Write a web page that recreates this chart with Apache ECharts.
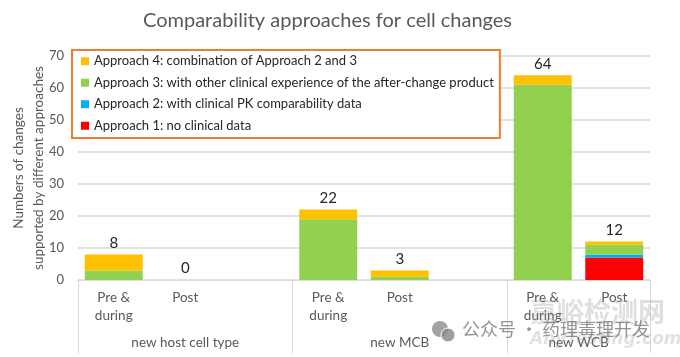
<!DOCTYPE html>
<html><head><meta charset="utf-8">
<script src="https://cdn.jsdelivr.net/npm/echarts@6/dist/echarts.min.js"></script>
<style>html,body{margin:0;padding:0;background:#fff}#c{width:680px;height:357px}</style>
</head><body><div id="c"></div>
<script>
const categories = ['Pre &\nduring', 'Post', '', 'Pre &\nduring', 'Post', '', 'Pre &\nduring', 'Post'];
const groups = ['new host cell type', 'new MCB', 'new WCB'];
const groupCenters = [1.5, 4.5, 7];
const groupBoundaries = [0, 3, 6];
const approach1 = [0, 0, '-', 0, 0, '-', 0, 7];
const approach2 = [0, 0, '-', 0, 0, '-', 0, 1];
const approach3 = [3, 0, '-', 19, 1, '-', 61, 3];
const approach4 = [5, 0, '-', 3, 2, '-', 3, 1];
const seriesNames = [
  'Approach 1: no clinical data',
  'Approach 2: with clinical PK comparability data',
  'Approach 3: with other clinical experience of the after-change product',
  'Approach 4: combination of Approach 2 and 3'
];
const colors = ['#FF0000', '#00B0F0', '#92D050', '#FFC000'];
const yTicks = [0, 10, 20, 30, 40, 50, 60, 70];

const allSeries = [approach1, approach2, approach3, approach4];
const totals = categories.map((c, i) => allSeries.reduce((s, a) => s + (typeof a[i] === 'number' ? a[i] : 0), 0));

const FONT = 'Lato';
const chart = echarts.init(document.getElementById('c'), null, {renderer: 'canvas'});
const series = allSeries.map((d, k) => ({
  name: seriesNames[k],
  type: 'bar',
  stack: 'total',
  data: d,
  barCategoryGap: '19%',
  itemStyle: {color: colors[k]},
  label: k === 3 ? {
    show: true, position: 'top', distance: 4,
    formatter: p => String(totals[p.dataIndex]),
    color: '#262626', fontSize: 15, fontFamily: FONT
  } : {show: false},
  emphasis: {disabled: true}
}));

chart.setOption({
  animation: false,
  color: colors,
  title: {
    text: 'Comparability approaches for cell changes',
    left: 138, top: 6,
    textStyle: {color: '#595959', fontSize: 20, fontWeight: 'normal', fontFamily: FONT}
  },
  legend: {
    orient: 'vertical', left: 72, top: 50,
    data: seriesNames.slice().reverse(),
    icon: 'rect', itemWidth: 8, itemHeight: 8, itemGap: 7,
    backgroundColor: '#fff', borderColor: '#ED7D31', borderWidth: 2,
    padding: [4, 6, 5, 9], borderRadius: 0,
    selectedMode: false,
    textStyle: {color: '#262626', fontSize: 13, fontFamily: FONT, lineHeight: 14.5}
  },
  grid: {left: 78, right: 30, top: 56, bottom: 77, outerBoundsMode: 'none', containLabel: false},
  xAxis: [{
    type: 'category', data: categories,
    axisLine: {lineStyle: {color: '#d9d9d9', width: 1}},
    axisTick: {show: true, length: 73, interval: i => groupBoundaries.indexOf(i) >= 0, lineStyle: {color: '#d9d9d9'}},
    axisLabel: {interval: 0, color: '#595959', fontSize: 13.5, fontFamily: FONT, lineHeight: 18, margin: 9}
  }, {
    type: 'value', min: 0, max: categories.length, interval: 0.5, position: 'bottom',
    axisLine: {show: false}, axisTick: {show: false}, splitLine: {show: false},
    axisLabel: {
      color: '#595959', fontSize: 13.5, fontFamily: FONT, margin: 56,
      showMinLabel: true, showMaxLabel: true,
      formatter: v => { const i = groupCenters.indexOf(v); return i >= 0 ? groups[i] : ''; }
    }
  }],
  yAxis: {
    type: 'value', min: yTicks[0], max: yTicks[yTicks.length - 1], interval: 10,
    name: 'Numbers of changes\nsupported by different approaches',
    nameLocation: 'middle', nameRotate: 90, nameGap: 29, nameMoveOverlap: false,
    nameTextStyle: {color: '#595959', fontSize: 13.5, fontFamily: FONT, lineHeight: 20},
    axisLine: {show: false}, axisTick: {show: false},
    splitLine: {lineStyle: {color: '#d9d9d9', width: 1.5}},
    axisLabel: {color: '#595959', fontSize: 13, fontFamily: FONT, margin: 14}
  },
  series: series,
  graphic: [
    {type: 'text', left: 530, top: 298, silent: true, z: 1,
     style: {text: '嘉峪检测网', fill: 'rgba(150,150,150,0.3)', fontSize: 27, fontWeight: 'bold', fontFamily: 'Noto Sans CJK SC'}},
    {type: 'text', left: 530, top: 331, silent: true, z: 1,
     style: {text: 'AnyTesting.com', fill: 'rgba(150,150,150,0.28)', fontSize: 17, fontStyle: 'italic', fontWeight: 'bold', fontFamily: 'DejaVu Sans'}},
    {type: 'text', left: 462, top: 320, silent: true, z: 10,
     style: {text: '公众号 · 药理毒理开发', fill: 'rgba(120,120,120,0.8)', fontSize: 18, fontFamily: 'Noto Sans CJK SC'}},
    {type: 'group', left: 432, top: 321, silent: true, z: 10, children: [
      {type: 'circle', shape: {cx: 9, cy: 8, r: 8}, style: {fill: 'rgba(140,140,140,0.8)'}},
      {type: 'circle', shape: {cx: 17, cy: 14, r: 7}, style: {fill: 'rgba(140,140,140,0.85)', stroke: '#fff', lineWidth: 1}}
    ]}
  ]
});
</script>
</body></html>
